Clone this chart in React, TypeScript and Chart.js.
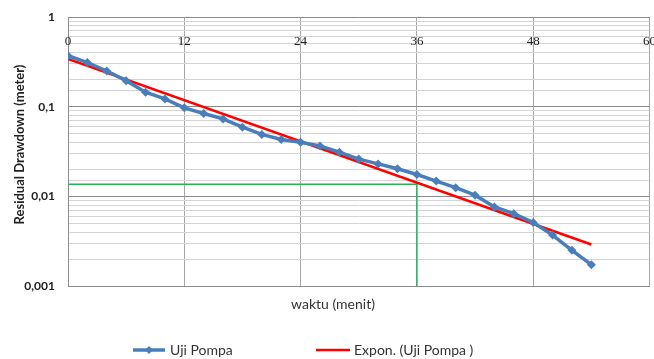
import React, { useEffect, useRef } from "react";
import { Chart, registerables } from "chart.js";

Chart.register(...registerables);

// ---- data ----
const minutes = [0, 2, 4, 6, 8, 10, 12, 14, 16, 18, 20, 22, 24, 26, 28, 30, 32, 34, 36, 38, 40, 42, 44, 46, 48, 50, 52, 54];
const drawdown = [0.37, 0.31, 0.25, 0.195, 0.145, 0.122, 0.097, 0.084, 0.073, 0.059, 0.049, 0.043, 0.040, 0.0365, 0.031, 0.026, 0.023, 0.0203, 0.0175, 0.0148, 0.0125, 0.0103, 0.0076, 0.0064, 0.0051, 0.0037, 0.0025, 0.00173];
// exponential trendline endpoints (straight on a log axis)
const trendX = [0, 54];
const trendY = [0.34, 0.0029];
// green guide line
const guideX = [0, 36, 36];
const guideY = [0.0136, 0.0136, 0.001];
const xTicks = [0, 12, 24, 36, 48, 60];
const yTicks = [1, 0.1, 0.01, 0.001];
const yTickLabels = ["1", "0,1", "0,01", "0,001"];
const seriesNames = ["Uji Pompa", "Expon. (Uji Pompa )"];
const xTitle = "waktu (menit)";
const yTitle = "Residual Drawdown (meter)";

const BLUE = "#4a7ebb";
const RED = "#ff0000";
const GREEN = "#2bb05a";
const SANS = 'Lato, "Open Sans", sans-serif';

const textPlugin = {
  id: "textPlugin",
  afterDraw(chart: any) {
    const ctx = chart.ctx;
    const xs = chart.scales.x;
    const ys = chart.scales.y;
    const area = chart.chartArea;
    ctx.save();
    // x tick labels inside plot near the top
    ctx.font = '13px "Liberation Serif", "DejaVu Serif", serif';
    ctx.fillStyle = "#222";
    ctx.textAlign = "center";
    ctx.textBaseline = "middle";
    xTicks.forEach((v) => {
      ctx.fillText(String(v), xs.getPixelForValue(v), area.top + 25);
    });
    // y tick labels
    ctx.font = "bold 12px " + SANS;
    ctx.fillStyle = "#222";
    ctx.textAlign = "right";
    yTicks.forEach((v, i) => {
      ctx.fillText(yTickLabels[i], area.left - 13, ys.getPixelForValue(v));
    });
    // y title
    ctx.save();
    ctx.translate(20, (area.top + area.bottom) / 2 - 7);
    ctx.rotate(-Math.PI / 2);
    ctx.font = "bold 13px " + SANS;
    ctx.textAlign = "center";
    ctx.fillText(yTitle, 0, 0);
    ctx.restore();
    // x title
    ctx.font = "14px " + SANS;
    ctx.textAlign = "center";
    ctx.fillStyle = "#333";
    ctx.fillText(xTitle, 333, 304);
    // legend
    const ly = 350;
    ctx.lineWidth = 3.5;
    ctx.strokeStyle = BLUE;
    ctx.beginPath();
    ctx.moveTo(133, ly);
    ctx.lineTo(165, ly);
    ctx.stroke();
    ctx.fillStyle = BLUE;
    ctx.beginPath();
    ctx.moveTo(149, ly - 4);
    ctx.lineTo(153, ly);
    ctx.lineTo(149, ly + 4);
    ctx.lineTo(145, ly);
    ctx.closePath();
    ctx.fill();
    ctx.lineWidth = 2.5;
    ctx.strokeStyle = RED;
    ctx.beginPath();
    ctx.moveTo(316, ly);
    ctx.lineTo(350, ly);
    ctx.stroke();
    ctx.font = "14px " + SANS;
    ctx.fillStyle = "#333";
    ctx.textAlign = "left";
    ctx.fillText(seriesNames[0], 170, ly);
    ctx.fillText(seriesNames[1], 354, ly);
    ctx.restore();
  },
};

export default function App() {
  const ref = useRef<HTMLCanvasElement>(null);
  useEffect(() => {
    document.body.style.margin = "0";
    const chart = new Chart(ref.current as HTMLCanvasElement, {
      type: "line",
      data: {
        datasets: [
          {
            label: seriesNames[0],
            data: minutes.map((m, i) => ({ x: m, y: drawdown[i] })),
            borderColor: BLUE,
            backgroundColor: BLUE,
            borderWidth: 3.5,
            pointStyle: "rectRot",
            pointRadius: 4.5,
            pointBorderWidth: 0,
            tension: 0,
          },
          {
            label: seriesNames[1],
            data: trendX.map((m, i) => ({ x: m, y: trendY[i] })),
            borderColor: RED,
            borderWidth: 2.5,
            pointRadius: 0,
          },
          {
            label: "guide",
            data: guideX.map((m, i) => ({ x: m, y: guideY[i] })),
            borderColor: GREEN,
            borderWidth: 1.5,
            pointRadius: 0,
          },
        ],
      },
      options: {
        responsive: false,
        animation: false,
        devicePixelRatio: 1,
        layout: { padding: { left: 68, top: 17, right: 1, bottom: 73 } },
        plugins: { legend: { display: false }, tooltip: { enabled: false } },
        scales: {
          x: {
            type: "linear",
            min: 0,
            max: 60,
            ticks: { display: false, stepSize: 12 },
            grid: { color: "#a6a6a6", drawTicks: false },
            border: { color: "#8c8c8c" },
          },
          y: {
            type: "logarithmic",
            min: 0.001,
            max: 1,
            ticks: { display: false, autoSkip: false },
            grid: {
              drawTicks: false,
              color: (c: any) => (c.tick && c.tick.major ? "#8c8c8c" : "#d4d4d4"),
            },
            border: { color: "#8c8c8c" },
          },
        },
      },
      plugins: [textPlugin],
    });
    return () => chart.destroy();
  }, []);
  return (
    <div style={{ width: 654, height: 359 }}>
      <canvas ref={ref} width={654} height={359} />
    </div>
  );
}
